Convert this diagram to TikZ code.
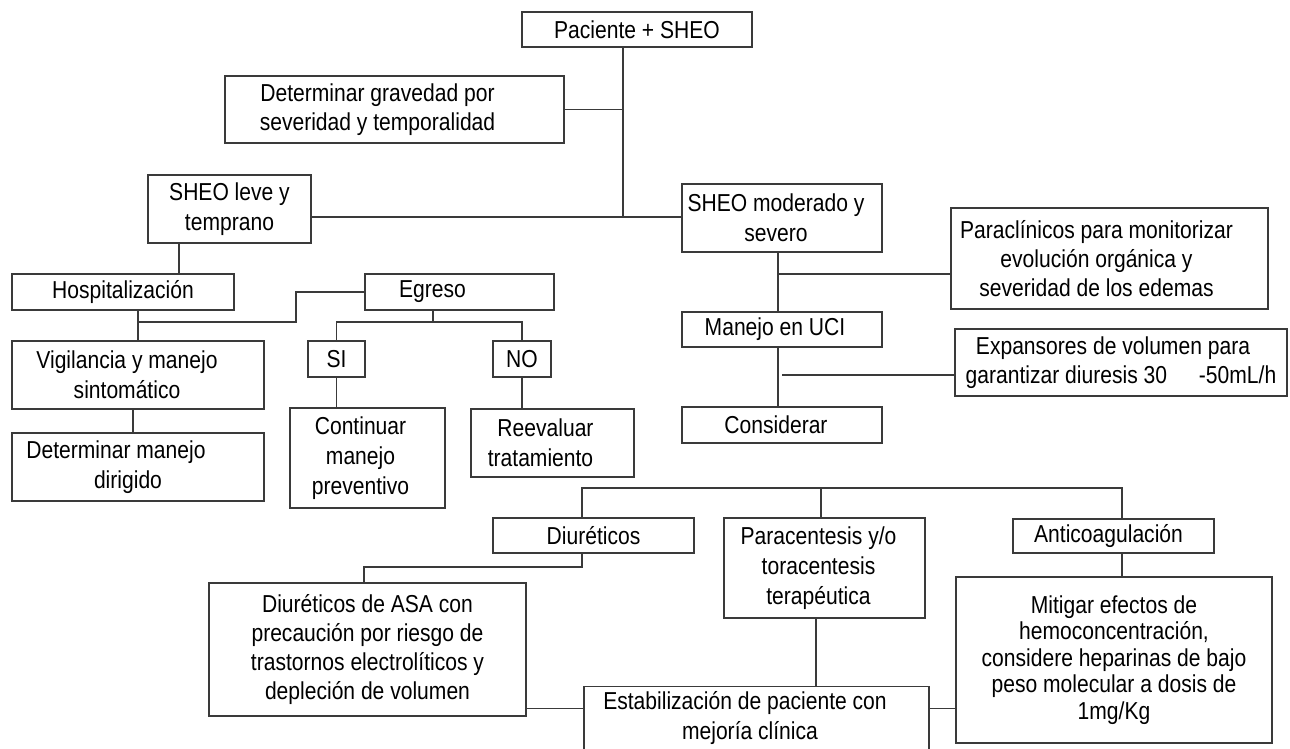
\documentclass[tikz,border=0pt]{standalone}
\usepackage{fontspec}
\setmainfont[FakeStretch=0.86]{Liberation Sans}
\definecolor{linec}{HTML}{3A3A3A}
\newcommand\mvl[1]{\hspace*{#1pt}}
\tikzset{
 box/.style={draw=linec, line width=1.1pt, inner sep=0pt, align=center, text=black, font=\fontsize{24.5}{30}\selectfont},
 tight/.style={font=\fontsize{24.5}{26.5}\selectfont},
 mid/.style={font=\fontsize{24.5}{29}\selectfont},
 conn/.style={draw=linec, line width=1.1pt},
}
\begin{document}
\begin{tikzpicture}[x=1pt,y=-1pt]
\fill[white] (0,0) rectangle (1290,749);
\useasboundingbox (0,0) rectangle (1290,749);

% boxes
\node[box, minimum width=230pt, minimum height=35pt] (pac) at (637,29.5) {Paciente + SHEO};
\node[box, mid, minimum width=339pt, minimum height=67pt] (grav) at (394.5,109.5) {\mvl{-34}Determinar gravedad por\\\mvl{-34}severidad y temporalidad};
\node[box, minimum width=163pt, minimum height=68pt] (leve) at (229.5,209) {SHEO leve y\\temprano};
\node[box, minimum width=200pt, minimum height=68pt] (mod) at (782,218) {\mvl{-12}SHEO moderado y\\\mvl{-12}severo};
\node[box, mid, minimum width=317pt, minimum height=101pt] (para) at (1109.5,258.5) {\mvl{-26}Paraclínicos para monitorizar\\\mvl{-26}evolución orgánica y\\\mvl{-26}severidad de los edemas};
\node[box, minimum width=222pt, minimum height=36pt] (hosp) at (123,292) {Hospitalización};
\node[box, minimum width=189pt, minimum height=36pt] (egr) at (459.5,292) {\mvl{-54}Egreso};
\node[box, minimum width=200pt, minimum height=35pt] (uci) at (782,329.5) {\mvl{-14}Manejo en UCI};
\node[box, mid, minimum width=332pt, minimum height=67pt] (exp) at (1121,362.5) {\mvl{-16}Expansores de volumen para\\garantizar diuresis 30\hspace{1.3em}-50mL/h};
\node[box, minimum width=252pt, minimum height=68pt] (vig) at (138,375) {\mvl{-22}Vigilancia y manejo\\\mvl{-22}sintomático};
\node[box, minimum width=57pt, minimum height=36pt] (si) at (336.5,359) {SI};
\node[box, minimum width=58pt, minimum height=36pt] (no) at (522,359) {NO};
\node[box, minimum width=200pt, minimum height=36pt] (cons) at (782,425) {\mvl{-12}Considerar};
\node[box, minimum width=155pt, minimum height=100pt] (cont) at (367.5,458) {\mvl{-14}Continuar\\\mvl{-14}manejo\\\mvl{-14}preventivo};
\node[box, minimum width=163pt, minimum height=68pt] (reev) at (552.5,443) {\mvl{-14}Reevaluar\\\mvl{-24}tratamiento};
\node[box, minimum width=252pt, minimum height=68pt] (dman) at (138,467) {\mvl{-44}Determinar manejo\\\mvl{-20}dirigido};
\node[box, minimum width=201pt, minimum height=35pt] (diu) at (593.5,535.5) {Diuréticos};
\node[box, minimum width=201pt, minimum height=100pt] (parac) at (824.5,568) {\mvl{-12}Paracentesis y/o\\\mvl{-12}toracentesis\\\mvl{-12}terapéutica};
\node[box, minimum width=201pt, minimum height=34pt] (anti) at (1113.5,536) {\mvl{-10}Anticoagulación};
\node[box, mid, minimum width=317pt, minimum height=133pt] (asa) at (367.5,649.5) {Diuréticos de ASA con\\precaución por riesgo de\\trastornos electrolíticos y\\depleción de volumen};
\node[box, tight, minimum width=316pt, minimum height=166pt] (mit) at (1114,660) {Mitigar efectos de\\hemoconcentración,\\considere heparinas de bajo\\peso molecular a dosis de\\1mg/Kg};
\node[box, minimum width=345pt, minimum height=80pt, anchor=north] (estab) at (756.5,686) {};
\node[align=center, inner sep=0pt, font=\fontsize{24.5}{30}\selectfont] (estabtxt) at (745,718) {Estabilización de paciente con\\\mvl{10}mejoría clínica};

% junction coordinates
\coordinate (j1) at (623,217);
\coordinate (c2) at (179,0);
\coordinate (j3) at (138,322);
\coordinate (j5) at (433,322);
\coordinate (j8) at (778,274);
\coordinate (j9) at (778,375);
\coordinate (b1) at (582,488);
\coordinate (b2) at (821,488);
\coordinate (b3) at (1122,488);
\coordinate (d1) at (364,567);
\coordinate (p1) at (816,0);
\coordinate (e1) at (0,708.5);
\coordinate (v1) at (133,0);

% connectors
\draw[conn] (pac.south -| j1) -- (j1);
\draw[conn] (grav.east) -- (grav.east -| j1);
\draw[conn] (leve.east |- j1) -- (mod.west |- j1);
\draw[conn] (leve.south -| c2) -- (hosp.north -| c2);
\draw[conn] (hosp.south -| j3) -- (vig.north -| j3);
\draw[conn] (j3) -- ++(158,0) |- (egr.west);
\draw[conn] (vig.south -| v1) -- (dman.north -| v1);
\draw[conn] (egr.south -| j5) -- (j5);
\draw[conn] (si.north) -- (si.north |- j5) -- (no.north |- j5) -- (no.north);
\draw[conn] (si.south) -- (si.south |- cont.north);
\draw[conn] (no.south) -- (no.south |- reev.north);
\draw[conn] (mod.south -| j8) -- (uci.north -| j8);
\draw[conn] (j8) -- (j8 -| para.west);
\draw[conn] (uci.south -| j8) -- (cons.north -| j8);
\draw[conn] ([xshift=4pt]j9) -- (j9 -| exp.west);
\draw[conn] (diu.north -| b1) -- (b1) -- (b3) -- (anti.north -| b3);
\draw[conn] (b2) -- (parac.north -| b2);
\draw[conn] (diu.south -| b1) |- (d1) -- (asa.north -| d1);
\draw[conn] (parac.south -| p1) -- (estab.north -| p1);
\draw[conn] (asa.east |- e1) -- (estab.west |- e1);
\draw[conn] (estab.east |- e1) -- (mit.west |- e1);
\draw[conn] (anti.south -| b3) -- (mit.north -| b3);
\end{tikzpicture}
\end{document}
